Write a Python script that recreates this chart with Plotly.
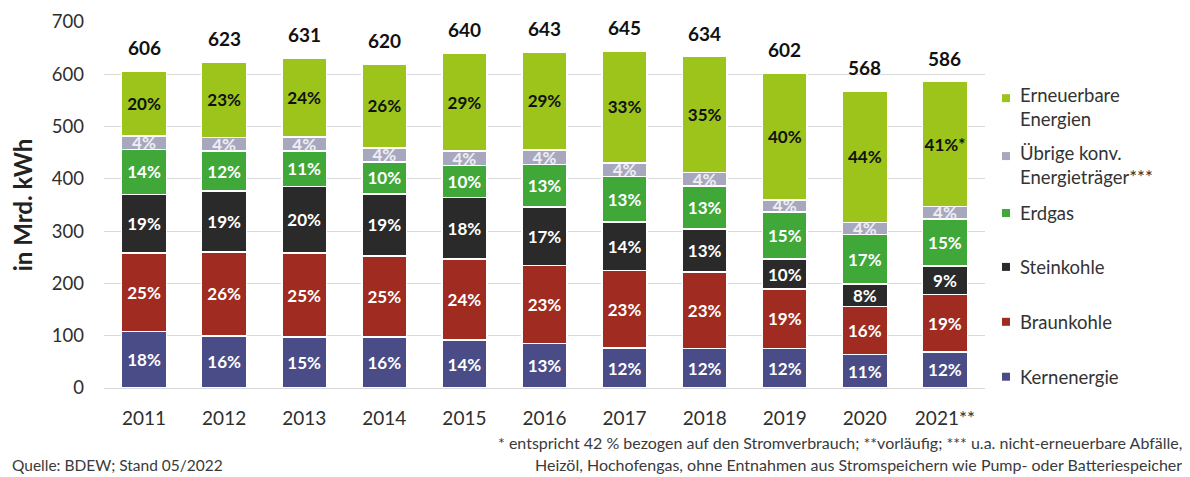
import plotly.graph_objects as go

years = ["2011", "2012", "2013", "2014", "2015", "2016", "2017", "2018", "2019", "2020", "2021**"]
totals = [606, 623, 631, 620, 640, 643, 645, 634, 602, 568, 586]

kern = [108, 99.5, 97.3, 97.1, 91.8, 84.9, 76.3, 76.0, 75.1, 64.4, 69.0]
braun = [150.1, 160.7, 160.9, 155.8, 154.5, 149.5, 148.4, 145.6, 114.0, 91.7, 110.1]
stein = [112.4, 116.4, 127.3, 118.6, 117.7, 112.2, 92.9, 82.6, 57.5, 42.8, 54.1]
erdgas = [86.1, 76.4, 67.5, 61.1, 62.0, 81.3, 86.7, 82.5, 89.9, 94.7, 90.3]
uebrige = [25.4, 26.4, 27.0, 26.4, 27.0, 27.1, 25.7, 25.3, 23.5, 23.2, 23.5]
erneuerbar = [123.9, 143.6, 151.0, 161.0, 187.0, 188.0, 215.0, 222.0, 242.0, 251.2, 239.0]

pct_kern = ["18%", "16%", "15%", "16%", "14%", "13%", "12%", "12%", "12%", "11%", "12%"]
pct_braun = ["25%", "26%", "25%", "25%", "24%", "23%", "23%", "23%", "19%", "16%", "19%"]
pct_stein = ["19%", "19%", "20%", "19%", "18%", "17%", "14%", "13%", "10%", "8%", "9%"]
pct_erdgas = ["14%", "12%", "11%", "10%", "10%", "13%", "13%", "13%", "15%", "17%", "15%"]
pct_uebrige = ["4%"] * 11
pct_erneuerbar = ["20%", "23%", "24%", "26%", "29%", "29%", "33%", "35%", "40%", "44%", "41%*"]

series = [
    ("Kernenergie", kern, pct_kern, "#4A4C88", "white"),
    ("Braunkohle", braun, pct_braun, "#A02B20", "white"),
    ("Steinkohle", stein, pct_stein, "#2A2A2A", "white"),
    ("Erdgas", erdgas, pct_erdgas, "#40A838", "white"),
    ("Übrige konv. Energieträger***", uebrige, pct_uebrige, "#A7A8BD", "#EEEEF4"),
    ("Erneuerbare Energien", erneuerbar, pct_erneuerbar, "#9DC41A", "#111111"),
]

xpos = list(range(len(years)))

FONT = "Lato"
fig = go.Figure()
for name, vals, pct, col, tcol in series:
    fig.add_trace(go.Bar(
        x=xpos, y=vals, name=name, text=pct,
        marker=dict(color=col, line=dict(color="white", width=1.5)),
        textposition="inside", insidetextanchor="middle", textangle=0,
        textfont=dict(family=FONT, size=17, color=tcol, weight="bold"),
        showlegend=False, hoverinfo="skip",
    ))

# page offset (body margin) and plot area in page pixels
OFF = 8
FW, FH = 1190 - OFF, 477 - OFF
L, R, T, B = 104, 985, 21.7, 388.3
W, H = R - L, B - T
def px(x):
    return (x - L) / W
def py(y):
    return (B - y) / H

annotations = []
for i, tot in zip(xpos, totals):
    annotations.append(dict(x=i, y=tot, xref="x", yref="y", text=f"<b>{tot}</b>",
                            showarrow=False, yanchor="bottom", yshift=10,
                            font=dict(family=FONT, size=19, color="#111111")))

# manual legend
legend_items = [
    ("Erneuerbare<br>Energien", "#9DC41A", 98, 107),
    ("Übrige konv.<br>Energieträger***", "#A7A8BD", 156, 165),
    ("Erdgas", "#40A838", 213, 213),
    ("Steinkohle", "#2A2A2A", 267, 267),
    ("Braunkohle", "#A02B20", 322, 322),
    ("Kernenergie", "#4A4C88", 377, 377),
]
shapes = []
for label, col, ym, yt in legend_items:
    shapes.append(dict(type="rect", xref="paper", yref="paper",
                       x0=px(1002), x1=px(1010), y0=py(ym + 4), y1=py(ym - 4),
                       fillcolor=col, line=dict(width=0)))
    annotations.append(dict(x=px(1018), y=py(yt), xref="paper", yref="paper",
                            text=label, showarrow=False, xanchor="left", yanchor="middle",
                            align="left",
                            font=dict(family=FONT, size=18.5, color="#333333")))

annotations.append(dict(x=px(1184), y=py(443), xref="paper", yref="paper",
                        text="* entspricht 42 % bezogen auf den Stromverbrauch; **vorläufig; *** u.a. nicht-erneuerbare Abfälle,",
                        showarrow=False, xanchor="right", yanchor="middle",
                        font=dict(family=FONT, size=16, color="#3A3A3A")))
annotations.append(dict(x=px(1184), y=py(465), xref="paper", yref="paper",
                        text="Heizöl, Hochofengas, ohne Entnahmen aus Stromspeichern wie Pump- oder Batteriespeicher",
                        showarrow=False, xanchor="right", yanchor="middle",
                        font=dict(family=FONT, size=16, color="#3A3A3A")))
annotations.append(dict(x=px(10), y=py(465), xref="paper", yref="paper",
                        text="Quelle: BDEW; Stand 05/2022",
                        showarrow=False, xanchor="left", yanchor="middle",
                        font=dict(family=FONT, size=15.5, color="#3A3A3A")))

fig.update_layout(
    barmode="stack", bargap=0.44,
    width=FW, height=FH,
    margin=dict(l=L - OFF, r=FW - (R - OFF), t=T - OFF, b=FH - (B - OFF), autoexpand=False),
    plot_bgcolor="white", paper_bgcolor="white",
    font=dict(family=FONT, color="#333333"),
    uniformtext=dict(minsize=17, mode="show"),
    annotations=annotations, shapes=shapes,
    xaxis=dict(type="linear", range=[-0.5, len(years) - 0.5], tickmode="array",
               tickvals=xpos, ticktext=years,
               showgrid=False, showline=False, zeroline=False, ticks="", ticklabelstandoff=17,
               tickfont=dict(family=FONT, size=19, color="#2E2E2E")),
    yaxis=dict(range=[0, 700], dtick=100, showgrid=True, gridcolor="#D9D9D9", gridwidth=1,
               zeroline=True, zerolinecolor="#D9D9D9", zerolinewidth=1,
               showline=False, ticks="", ticklabelstandoff=19,
               tickfont=dict(family=FONT, size=18.5, color="#2E2E2E")),
)
fig.update_yaxes(title=dict(text="<b>in Mrd. kWh</b>", standoff=16,
                            font=dict(family=FONT, size=24, color="#222222")))

fig.write_html("out.html")
